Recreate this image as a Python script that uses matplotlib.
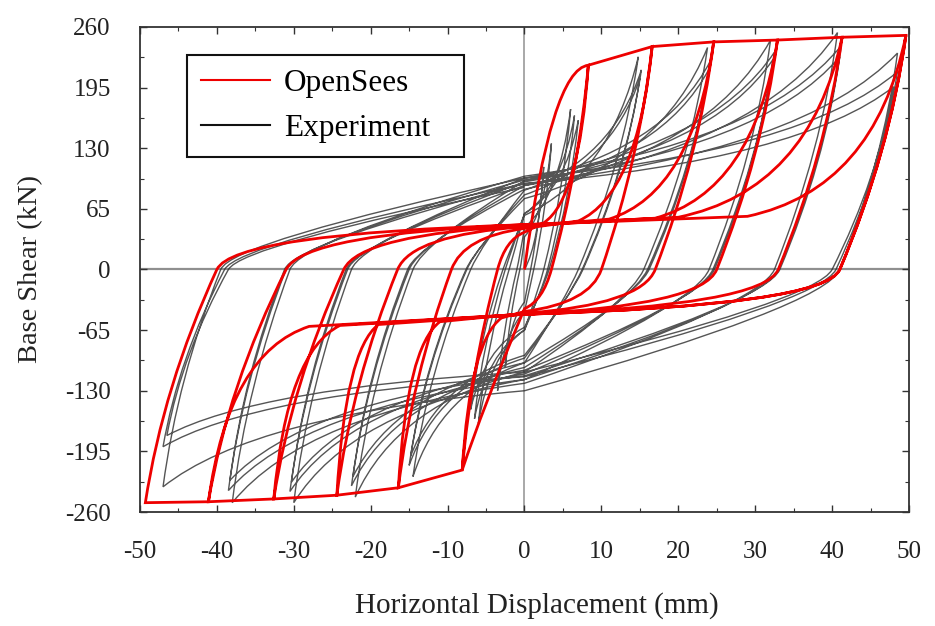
import matplotlib.pyplot as plt
from matplotlib.path import Path
from matplotlib.patches import PathPatch
from matplotlib.lines import Line2D

plt.rcParams['font.family'] = ['Liberation Serif', 'DejaVu Serif']
plt.rcParams['axes.unicode_minus'] = False

# OpenSees cycles (red): peaks, zero crossings on unloading, pinching levels at x=0
red_dpos = [8.3, 16.6, 24.6, 32.9, 41.3, 49.6]
red_fpos = [219, 239, 244, 246, 249, 251]
red_dneg = [-8.1, -16.4, -24.4, -32.6, -41.1, -49.3]
red_fneg = [-215, -234, -242, -246, -249, -250]
red_zpos = [3.5, 10.0, 17.0, 25.0, 33.0, 41.0]
red_zneg = [-3.5, -9.5, -16.5, -23.5, -31.0, -40.0]
red_pin_pos = [40, 44, 46, 47, 48, 48]
red_pin_neg = [-42, -45, -47, -48, -48, -48]
# where reloading leaves the pinched plateau (last positive one is the final half cycle)
red_brk_pos_x = [2.5, 7.0, 11.0, 17.0, 20.0, 29.0]
red_brk_pos_f = [50, 52, 54, 55, 56, 57]
red_brk_neg_x = [-3.0, -11.0, -19.0, -24.0, -28.0]
red_brk_neg_f = [-52, -56, -59, -60, -61]
red_init_ctrl_pos = (3.5, 215)
red_init_ctrl_neg = (-5.5, -150)

# Experiment cycles (black)
blk_dpos = [2.5, 3.5, 6.0, 6.5, 7.0, 14.8, 15.2, 15.0, 23.8, 24.2, 24.0, 32.0, 32.5, 32.3,
            40.7, 41.2, 41.0, 48.5, 48.5, 48.0]
blk_fpos = [110, 135, 172, 165, 160, 228, 214, 205, 238, 224, 215, 246, 233, 225,
            254, 240, 228, 232, 212, 196]
blk_dneg = [-2.5, -3.5, -6.0, -6.5, -7.0, -14.5, -15.0, -14.8, -22.0, -22.5, -22.3, -30.0, -30.5, -30.3,
            -38.0, -38.5, -38.3, -47.0, -47.0, -46.5]
blk_fneg = [-105, -130, -165, -160, -150, -222, -210, -200, -244, -232, -222, -250, -238, -228,
            -250, -237, -226, -233, -190, -178]
blk_zpos = [0.8, 1.2, 2.5, 3.0, 3.2, 7.0, 7.5, 7.6, 15.5, 16.0, 16.2, 24.0, 24.5, 24.7,
            32.5, 33.0, 33.2, 41.0, 40.5, 40.0]
blk_zneg = [-0.6, -1.0, -2.0, -2.5, -2.8, -7.0, -7.5, -7.6, -14.5, -15.0, -15.2, -22.5, -23.0, -23.2,
            -30.5, -31.0, -31.2, -39.5, -39.0, -38.5]
blk_pin_pos = [35, 45, 60, 60, 58, 85, 80, 76, 95, 90, 86, 98, 94, 90,
               100, 96, 92, 98, 92, 88]
blk_pin_neg = [-35, -45, -65, -65, -62, -100, -95, -92, -110, -105, -100, -118, -112, -108,
               -122, -118, -114, -130, -115, -110]


def bez(v, c, ctrl, end):
    v += [ctrl, end]
    c += [Path.CURVE3, Path.CURVE3]


def line(v, c, end):
    v.append(end)
    c.append(Path.LINETO)


def unload(v, c, d, f, z, pin, knee):
    # peak -> zero crossing -> pinching point on the x=0 line
    c1 = (d + 0.25 * (z - d), 0.5 * f)
    s = knee * pin / (-c1[1])
    c2 = (z + s * (z - c1[0]), knee * pin)
    bez(v, c, c1, (z, 0))
    bez(v, c, c2, (0, pin))


def bend(v, c, start, target):
    (xb, fb), (dp, fp) = start, target
    line(v, c, start)
    bez(v, c, (dp - 0.2 * (dp - xb), fb + 0.15 * (fp - fb)), target)


# red path
rv, rc = [(0, 0)], [Path.MOVETO]
bez(rv, rc, red_init_ctrl_pos, (red_dpos[0], red_fpos[0]))
for k in range(6):
    if k > 0:
        bend(rv, rc, (red_brk_pos_x[k - 1], red_brk_pos_f[k - 1]), (red_dpos[k - 1], red_fpos[k - 1]))
        line(rv, rc, (red_dpos[k], red_fpos[k]))
    unload(rv, rc, red_dpos[k], red_fpos[k], red_zpos[k], red_pin_neg[k], 0.8)
    if k == 0:
        bez(rv, rc, red_init_ctrl_neg, (red_dneg[0], red_fneg[0]))
    else:
        bend(rv, rc, (red_brk_neg_x[k - 1], red_brk_neg_f[k - 1]), (red_dneg[k - 1], red_fneg[k - 1]))
        line(rv, rc, (red_dneg[k], red_fneg[k]))
    unload(rv, rc, red_dneg[k], red_fneg[k], red_zneg[k], red_pin_pos[k], 0.8)
bend(rv, rc, (red_brk_pos_x[5], red_brk_pos_f[5]), (red_dpos[5], red_fpos[5]))
unload(rv, rc, red_dpos[5], red_fpos[5], red_zpos[5], red_pin_neg[5], 0.8)

# black path
bv, bc = [(0, 0)], [Path.MOVETO]
for i in range(len(blk_dpos)):
    p = 0 if i == 0 else blk_pin_pos[i - 1]
    d, f = blk_dpos[i], blk_fpos[i]
    bez(bv, bc, (0.75 * d, p + 0.25 * (f - p)), (d, f))
    unload(bv, bc, d, f, blk_zpos[i], blk_pin_neg[i], 0.3)
    p = blk_pin_neg[i]
    d, f = blk_dneg[i], blk_fneg[i]
    bez(bv, bc, (0.75 * d, p + 0.25 * (f - p)), (d, f))
    unload(bv, bc, d, f, blk_zneg[i], blk_pin_pos[i], 0.3)

fig = plt.figure(figsize=(9.35, 6.26), dpi=100)
ax = fig.add_axes([0.1497, 0.1821, 0.8225, 0.7748])

ax.axhline(0, color='#8f8f8f', lw=1.6, zorder=1)
ax.axvline(0, color='#9a9a9a', lw=1.2, zorder=1)
ax.add_patch(PathPatch(Path(bv, bc), fill=False, edgecolor='#2b2b2b', lw=1.0, alpha=0.8, zorder=2))
ax.add_patch(PathPatch(Path(rv, rc), fill=False, edgecolor='#ee0000', lw=2.0, zorder=3))

ax.set_xlim(-50, 50)
ax.set_ylim(-260, 260)
ax.set_xticks(range(-50, 51, 10))
ax.set_xticks(range(-45, 50, 10), minor=True)
ax.set_yticks(range(-260, 261, 65))
ax.set_yticks([-227.5, -162.5, -97.5, -32.5, 32.5, 97.5, 162.5, 227.5], minor=True)
ax.tick_params(which='both', direction='in', top=True, right=True, colors='#333333', labelcolor='#222222')
ax.tick_params(which='major', length=5, width=1.0, labelsize=18, pad=21)
ax.tick_params(which='minor', length=3, width=0.8)
for s in ax.spines.values():
    s.set_color('#333333')
    s.set_linewidth(1.3)

ax.set_xlabel('Horizontal Displacement (mm)', fontsize=21, color='#222222', va='center')
ax.xaxis.set_label_coords(0.516, -0.192)
ax.set_ylabel('Base Shear (kN)', fontsize=20.5, color='#222222', va='center')
ax.yaxis.set_label_coords(-0.142, 0.5)

handles = [Line2D([], [], color='#ee0000', lw=1.5), Line2D([], [], color='#111111', lw=1.5)]
leg = ax.legend(handles, ['OpenSees', 'Experiment'], loc='upper left',
                bbox_to_anchor=(0.061, 0.70, 0.36, 0.242), mode='expand', borderaxespad=0,
                fontsize=22.5, handlelength=2.2, handletextpad=0.45, labelspacing=0.5,
                borderpad=0.45, fancybox=False, framealpha=1, edgecolor='#111111')
leg.get_frame().set_linewidth(1.5)

fig.savefig('out.png', dpi=100)
